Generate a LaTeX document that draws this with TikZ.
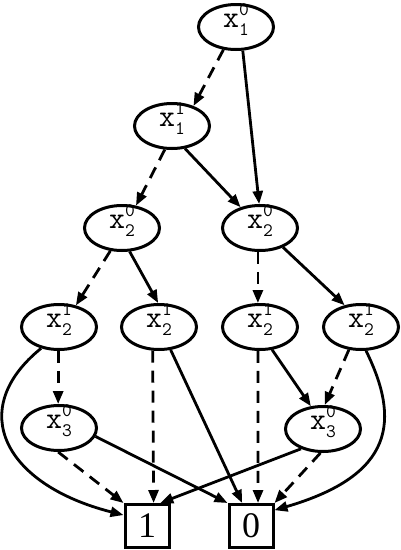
\documentclass[tikz,border=0pt]{standalone}
\usepackage{fontspec}
\setmainfont{Liberation Serif}
\newfontfamily\varfont{Latin Modern Mono}
\usetikzlibrary{arrows.meta}
\usetikzlibrary{shapes.geometric}

% x^{sup}_{sub} in typewriter, baseline on the node centre
\newcommand{\xvar}[2]{\raisebox{0pt}[0pt][0pt]{\varfont\fontsize{31}{31}\selectfont x\makebox[0pt][l]{\raisebox{12pt}{\fontsize{19}{19}\selectfont #2}}\raisebox{-8pt}{\fontsize{19}{19}\selectfont #1}}}

\begin{document}
\begin{tikzpicture}[x=1pt, y=-1pt,
        var/.style={draw, ellipse, line width=3pt, minimum width=75pt, minimum height=45pt, inner sep=0pt},
        term/.style={draw, rectangle, line width=3pt, minimum width=44pt, minimum height=43pt, inner sep=0pt, font=\fontsize{36}{36}\selectfont},
        hi/.style={line width=2.8pt, -{Triangle[length=13pt,width=10pt]}},
        lo/.style={hi, dash pattern=on 12pt off 8pt}
      ]
  \useasboundingbox (0,0) rectangle (400,550);

  \node[var] (x10)  at (236,27)  {\xvar{1}{0}};
  \node[var] (x11)  at (172,126) {\xvar{1}{1}};
  \node[var] (x20a) at (122,228) {\xvar{2}{0}};
  \node[var] (x20b) at (260,228) {\xvar{2}{0}};
  \node[var] (x21a) at (59,327)  {\xvar{2}{1}};
  \node[var] (x21b) at (159,327) {\xvar{2}{1}};
  \node[var] (x21c) at (260,327) {\xvar{2}{1}};
  \node[var] (x21d) at (361,327) {\xvar{2}{1}};
  \node[var] (x30a) at (59,428)  {\xvar{3}{0}};
  \node[var] (x30b) at (323,429) {\xvar{3}{0}};
  \node[term] (t1)  at (147,526) {1};
  \node[term] (t0)  at (251,526) {0};

  % low (dashed) edges
  \foreach \s/\t in {x10.241/x11.43, x11.253/x20a.58, x20a.243/x21a.52, x20b.265/x21c.95,
                     x21a.268/x30a.92, x21b.255/t1.74, x21c.265/t0.73, x21d.242/x30b.86,
                     x30a.268/t1.north west, x30b.264/t0.north east}
    \draw[lo] (\s) -- (\t);

  % high (solid) edges
  \foreach \s/\t in {x10.286/x20b.92, x11.300/x20b.133, x20a.288/x21b.92, x20b.320/x21d.127,
                     x21b.297/t0.111, x21c.298/x30b.118, x30a.347/t0.north west, x30b.222/t1.60}
    \draw[hi] (\s) -- (\t);

  \draw[hi] (x21a.230) .. controls (-35,410) and (5,485) .. (t1.155);
  \draw[hi] (x21d.282) .. controls (400,420) and (395,475) .. (t0.34);

\end{tikzpicture}
\end{document}
